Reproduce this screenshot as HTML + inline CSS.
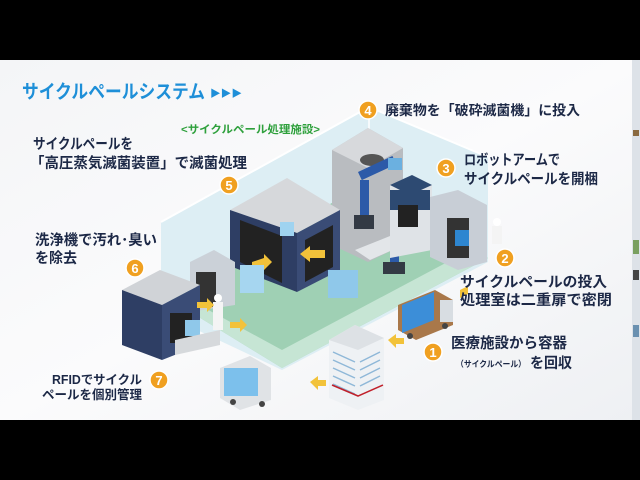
<!DOCTYPE html>
<html><head><meta charset="utf-8"><style>
html,body{margin:0;padding:0;background:#000;}
svg{display:block}
text{font-family:"Liberation Sans","Noto Sans CJK JP",sans-serif;font-weight:bold}
</style></head><body>
<svg width="640" height="480" viewBox="0 0 640 480" xmlns="http://www.w3.org/2000/svg">
<defs>
<linearGradient id="bg" x1="0" y1="0" x2="1" y2="1"><stop offset="0" stop-color="#f4f5f7"/><stop offset="0.5" stop-color="#fbfbfc"/><stop offset="1" stop-color="#eef0f3"/></linearGradient>
</defs>
<rect x="0" y="0" width="640" height="480" fill="#000"/>
<rect x="0" y="60" width="640" height="360" fill="url(#bg)"/>
<rect x="632" y="60" width="8" height="360" fill="#dde2e8"/>
<rect x="633" y="130" width="6" height="6" fill="#8a6a40"/>
<rect x="633" y="240" width="6" height="14" fill="#7aa060"/>
<rect x="633" y="270" width="6" height="10" fill="#444"/>
<rect x="633" y="325" width="6" height="12" fill="#6a90b0"/>

<!-- room -->
<polygon points="161,222 369,107 488,157 488,262 282,370 161,313" fill="#d9ecf3" opacity="0.9"/>
<polygon points="171,300 340,198 488,258 282,368" fill="#9fd0b4"/>
<polygon points="171,300 282,368 488,258 470,250 282,350 190,300" fill="#c6e5d4"/>
<polyline points="161,222 369,107 488,157" fill="none" stroke="#ffffff" stroke-width="2"/>
<line x1="369" y1="107" x2="369" y2="210" stroke="#ffffff" stroke-width="1.5"/>

<!-- robot room -->
<polygon points="332,150 368,128 403,148 403,245 368,262 332,245" fill="#b9bcc0"/>
<polygon points="332,150 368,128 403,148 368,168" fill="#d7d9dc"/>
<ellipse cx="372" cy="160" rx="12" ry="6" fill="#555"/>
<rect x="358" y="172" width="38" height="9" fill="#2c5aa8" transform="rotate(-25 358 172)"/>
<rect x="388" y="158" width="14" height="12" fill="#6bb0e0"/>
<rect x="360" y="180" width="9" height="42" fill="#2c5aa8"/>
<rect x="354" y="215" width="20" height="14" fill="#333a44"/>
<rect x="390" y="225" width="9" height="40" fill="#2c5aa8"/>
<rect x="383" y="262" width="22" height="12" fill="#333a44"/>
<polygon points="355,250 400,232 415,240 370,260" fill="#e3e6e9"/>
<!-- machine 3 -->
<polygon points="390,185 412,175 432,185 432,250 390,258" fill="#dfe3e7"/>
<polygon points="390,185 412,175 432,185 410,195" fill="#2d4a72"/>
<rect x="390" y="190" width="40" height="20" fill="#2d4a72"/>
<rect x="398" y="205" width="20" height="22" fill="#222"/>
<polygon points="430,197 458,190 487,205 487,262 458,270 430,257" fill="#c8ced6"/>
<rect x="447" y="218" width="22" height="40" fill="#333"/>
<rect x="455" y="230" width="14" height="16" fill="#2e86d0"/>
<circle cx="497" cy="222" r="4" fill="#fff"/><rect x="492" y="226" width="10" height="18" fill="#f4f4f4"/>

<!-- sterilizer -->
<polygon points="230,210 287,178 340,210 297,233" fill="#d6d8db"/>
<polygon points="230,210 297,233 297,292 230,266" fill="#2e3e64"/>
<polygon points="297,233 340,210 340,270 297,292" fill="#3a4c76"/>
<polygon points="240,220 282,236 282,283 240,262" fill="#222"/>
<polygon points="305,240 333,225 333,267 305,282" fill="#222"/>
<rect x="280" y="222" width="14" height="14" fill="#9fd3f0"/>
<polygon points="252,262 264,258 264,254 272,262 264,270 264,266 252,266" fill="#f2c23a"/>
<polygon points="325,250 310,250 310,246 300,254 310,262 310,258 325,258" fill="#f2c23a"/>
<rect x="240" y="265" width="24" height="28" fill="#a6d6f0"/>
<rect x="328" y="270" width="30" height="28" fill="#8fc8ea"/>

<!-- washer -->
<polygon points="190,262 214,250 235,262 235,305 190,312" fill="#cbd1d8"/>
<rect x="196" y="272" width="20" height="35" fill="#333"/>
<polygon points="122,290 160,270 200,285 162,305" fill="#d0d3d7"/>
<polygon points="122,290 162,305 162,360 122,345" fill="#2e3e64"/>
<polygon points="162,305 200,285 200,345 162,360" fill="#3a4c76"/>
<rect x="170" y="313" width="22" height="30" fill="#222"/>
<rect x="185" y="320" width="15" height="16" fill="#8fc8ea"/>
<polygon points="175,340 220,330 220,345 175,355" fill="#d6d9dc"/>
<circle cx="218" cy="298" r="4" fill="#fff"/><rect x="213" y="302" width="10" height="28" fill="#f4f4f4"/>
<polygon points="197,302 207,302 207,298 214,305 207,312 207,308 197,308" fill="#f2c23a"/>
<polygon points="230,322 240,322 240,318 247,325 240,332 240,328 230,328" fill="#f2c23a"/>

<!-- truck 1 -->
<polygon points="398,305 435,290 453,300 453,325 416,340 398,330" fill="#a9784a"/>
<polygon points="402,305 434,292 434,320 402,333" fill="#3c8ed8"/>
<rect x="440" y="300" width="13" height="22" fill="#d8dde2"/>
<circle cx="410" cy="336" r="3" fill="#444"/><circle cx="445" cy="326" r="3" fill="#444"/>
<polygon points="460,290 468,286 468,294 460,298" fill="#f2c23a"/>
<!-- truck 2 -->
<polygon points="220,368 250,356 271,368 271,400 240,410 220,398" fill="#e0e3e6"/>
<rect x="224" y="368" width="34" height="28" fill="#7cc0ec"/>
<circle cx="233" cy="402" r="3" fill="#444"/><circle cx="262" cy="404" r="3" fill="#444"/>

<!-- building -->
<polygon points="329,340 355,325 384,338 384,400 358,410 329,398" fill="#eef1f4"/>
<polygon points="329,340 355,325 384,338 358,350" fill="#dde1e5"/>
<g stroke="#8fb8d8" stroke-width="1.5">
<line x1="333" y1="352" x2="355" y2="362"/><line x1="333" y1="360" x2="355" y2="370"/><line x1="333" y1="368" x2="355" y2="378"/><line x1="333" y1="376" x2="355" y2="386"/><line x1="333" y1="384" x2="355" y2="394"/>
<line x1="360" y1="362" x2="380" y2="352"/><line x1="360" y1="370" x2="380" y2="360"/><line x1="360" y1="378" x2="380" y2="368"/><line x1="360" y1="386" x2="380" y2="376"/>
</g>
<polyline points="332,385 358,396 383,385" fill="none" stroke="#c0202a" stroke-width="1.5"/>
<polygon points="310,382 318,376 318,380 326,380 326,386 318,386 318,390" fill="#f2c23a"/>
<polygon points="388,340 396,334 396,338 404,338 404,344 396,344 396,348" fill="#f2c23a"/>

<!-- text -->
<g lengthAdjust="spacingAndGlyphs">
<text x="22" y="98" font-size="19" fill="#1e8fd8" textLength="183" lengthAdjust="spacingAndGlyphs">サイクルペールシステム</text>
<text x="210" y="97" font-size="10" fill="#1e8fd8" textLength="32" lengthAdjust="spacingAndGlyphs">▶▶▶</text>
<text x="181" y="133" font-size="11" fill="#2ea03c" textLength="139" lengthAdjust="spacingAndGlyphs">&lt;サイクルペール処理施設&gt;</text>
<text x="33" y="149" font-size="14.5" fill="#1c2846" textLength="100" lengthAdjust="spacingAndGlyphs">サイクルペールを</text>
<text x="30" y="168" font-size="14.5" fill="#1c2846" textLength="217" lengthAdjust="spacingAndGlyphs">「高圧蒸気滅菌装置」で滅菌処理</text>
<text x="35" y="245" font-size="14.5" fill="#1c2846" textLength="122" lengthAdjust="spacingAndGlyphs">洗浄機で汚れ･臭い</text>
<text x="35" y="263" font-size="14.5" fill="#1c2846" textLength="42" lengthAdjust="spacingAndGlyphs">を除去</text>
<text x="52" y="384" font-size="12.5" fill="#1c2846" textLength="90" lengthAdjust="spacingAndGlyphs">RFIDでサイクル</text>
<text x="42" y="399" font-size="12.5" fill="#1c2846" textLength="100" lengthAdjust="spacingAndGlyphs">ペールを個別管理</text>
<text x="385" y="115" font-size="13.5" fill="#1c2846" textLength="195" lengthAdjust="spacingAndGlyphs">廃棄物を「破砕滅菌機」に投入</text>
<text x="464" y="165" font-size="14.5" fill="#1c2846" textLength="96" lengthAdjust="spacingAndGlyphs">ロボットアームで</text>
<text x="464" y="184" font-size="14.5" fill="#1c2846" textLength="134" lengthAdjust="spacingAndGlyphs">サイクルペールを開梱</text>
<text x="460" y="287" font-size="14.5" fill="#1c2846" textLength="147" lengthAdjust="spacingAndGlyphs">サイクルペールの投入</text>
<text x="460" y="305" font-size="14.5" fill="#1c2846" textLength="152" lengthAdjust="spacingAndGlyphs">処理室は二重扉で密閉</text>
<text x="451" y="348" font-size="14.5" fill="#1c2846" textLength="116" lengthAdjust="spacingAndGlyphs">医療施設から容器</text>
<text x="456" y="367" font-size="8.5" fill="#1c2846" textLength="70" lengthAdjust="spacingAndGlyphs">（サイクルペール）</text>
<text x="530" y="368" font-size="14.5" fill="#1c2846" textLength="42" lengthAdjust="spacingAndGlyphs">を回収</text>
</g>

<!-- circles -->
<g font-size="13" text-anchor="middle">
<circle cx="229" cy="185" r="9" fill="#f0a020" stroke="#fff" stroke-width="1.5"/><text x="229" y="190" fill="#fff">5</text>
<circle cx="135" cy="268" r="9" fill="#f0a020" stroke="#fff" stroke-width="1.5"/><text x="135" y="273" fill="#fff">6</text>
<circle cx="159" cy="380" r="9" fill="#f0a020" stroke="#fff" stroke-width="1.5"/><text x="159" y="385" fill="#fff">7</text>
<circle cx="368" cy="110" r="9" fill="#f0a020" stroke="#fff" stroke-width="1.5"/><text x="368" y="115" fill="#fff">4</text>
<circle cx="446" cy="168" r="9" fill="#f0a020" stroke="#fff" stroke-width="1.5"/><text x="446" y="173" fill="#fff">3</text>
<circle cx="505" cy="258" r="9" fill="#f0a020" stroke="#fff" stroke-width="1.5"/><text x="505" y="263" fill="#fff">2</text>
<circle cx="433" cy="352" r="9" fill="#f0a020" stroke="#fff" stroke-width="1.5"/><text x="433" y="357" fill="#fff">1</text>
</g>
</svg>
</body></html>
